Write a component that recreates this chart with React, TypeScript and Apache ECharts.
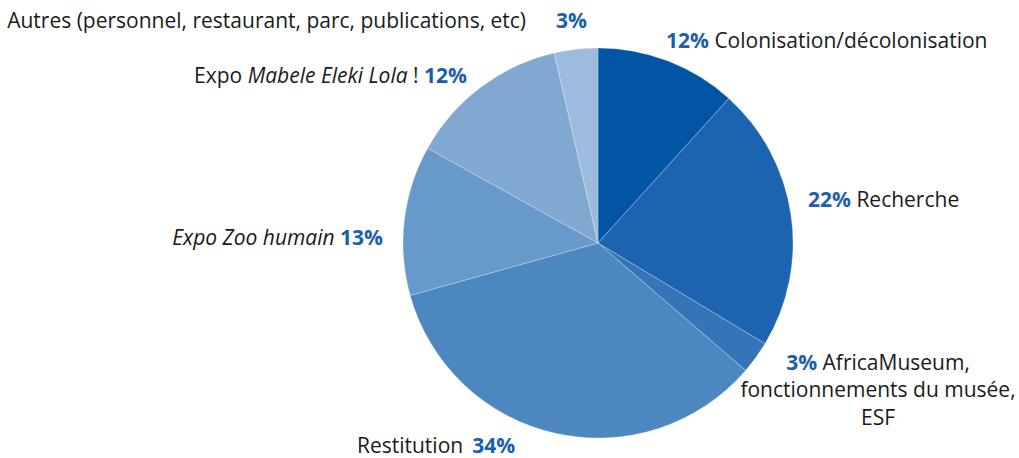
import React, { useEffect, useRef } from "react";
import * as echarts from "echarts";

const categories = [
  "Colonisation/décolonisation",
  "Recherche",
  "AfricaMuseum, fonctionnements du musée, ESF",
  "Restitution",
  "Expo Zoo humain",
  "Expo Mabele Eleki Lola !",
  "Autres (personnel, restaurant, parc, publications, etc)",
];
// slice sizes
const values = [11.7, 21.9, 2.7, 34.3, 12.4, 13.3, 3.6];
// percentages as printed in the labels
const percentLabels = ["12%", "22%", "3%", "34%", "13%", "12%", "3%"];
const colors = ["#0254A5", "#1C64AF", "#3475B8", "#4D87C0", "#6799CA", "#80A8D1", "#9DBBDD"];

const labelTemplates = [
  "{p|%P} {n|Colonisation/décolonisation}",
  "{p|%P} {n|Recherche}",
  "{p|%P} {n|AfricaMuseum,}\n{n|fonctionnements du musée,}\n{n|ESF}",
  "{n|Restitution}{s|}{p|%P}",
  "{i|Expo Zoo humain} {p|%P}",
  "{n|Expo }{i|Mabele Eleki Lola}{n| ! }{p|%P}",
  "{n|Autres (personnel, restaurant, parc, publications, etc)}{g|}{p|%P}",
];

const labelAnchors: [number, number, string][] = [
  [666, 40, "left"],
  [808, 199, "left"],
  [878, 389, "center"],
  [436, 445, "center"],
  [383, 237, "right"],
  [467, 75, "right"],
  [587, 20, "right"],
];

const FONT = "Open Sans";
const FS = 21;
const LH = 27.5;

export default function App() {
  const ref = useRef<HTMLDivElement>(null);
  useEffect(() => {
    const chart = echarts.init(ref.current!, undefined, { renderer: "svg" });
    chart.setOption({
      animation: false,
      backgroundColor: "#ffffff",
      series: [
        {
          type: "pie",
          center: [598, 243],
          radius: 195,
          startAngle: 90,
          clockwise: true,
          data: categories.map((name, i) => ({
            name,
            value: values[i],
            itemStyle: { color: colors[i] },
          })),
          itemStyle: { borderColor: "rgba(255,255,255,0.5)", borderWidth: 0.5 },
          emphasis: { disabled: true },
          labelLine: { show: false },
          label: {
            show: true,
            position: "outside",
            overflow: "none",
            formatter: (p: any) => labelTemplates[p.dataIndex].replace("%P", percentLabels[p.dataIndex]),
            fontFamily: FONT,
            fontSize: FS,
            color: "#1a1a1a",
            lineHeight: LH,
            rich: {
              p: { fontFamily: FONT, fontSize: FS, fontWeight: "bold", color: "#1A5FAD", lineHeight: LH },
              n: { fontFamily: FONT, fontSize: FS, color: "#1a1a1a", lineHeight: LH },
              i: { fontFamily: FONT, fontSize: FS, fontStyle: "italic", color: "#1a1a1a", lineHeight: LH },
              g: { width: 30 },
              s: { width: 9 },
            },
          },
          labelLayout: (params: any) => {
            const a = labelAnchors[params.dataIndex];
            return { x: a[0], y: a[1], align: a[2], verticalAlign: "middle" };
          },
        },
      ],
    });
    return () => chart.dispose();
  }, []);
  return <div ref={ref} style={{ width: 1019, height: 458, position: "absolute", left: 0, top: 0 }} />;
}
